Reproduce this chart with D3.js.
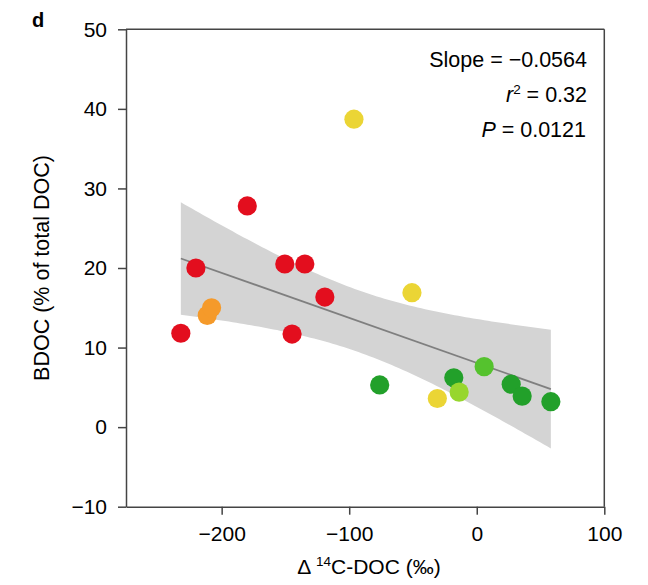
<!DOCTYPE html>
<html><head><meta charset="utf-8">
<script src="https://cdn.jsdelivr.net/npm/d3@7"></script>
<style>body{margin:0;background:#fff;} text{font-family:"Liberation Sans",Arial,Helvetica,sans-serif;}</style>
</head><body>
<svg id="c" width="648" height="585"></svg>
<script>
const xVals = [-232, -220.2, -211.3, -207.9, -179.9, -150.5, -134.8, -144.8, -119.1, -96.3, -50.8, -76.1, -30.9, -18.0, -13.8, 5.8, 27.0, 35.6, 58.1];
const yVals = [11.8, 20.0, 14.05, 15.0, 27.8, 20.5, 20.5, 11.7, 16.35, 38.7, 16.9, 5.3, 3.6, 6.2, 4.4, 7.6, 5.4, 3.9, 3.2];
const groups = ["red","red","orange","orange","red","red","red","red","red","yellow","yellow","dkgreen","yellow","dkgreen","ltgreen","mdgreen","dkgreen","dkgreen","dkgreen"];
const groupNames = ["red","orange","yellow","ltgreen","mdgreen","dkgreen"];
const groupColors = ["#E30E1E","#F59A2A","#EBD535","#97D62E","#55C22E","#22A02A"];
const xTicks = [-200, -100, 0, 100];
const yTicks = [-10, 0, 10, 20, 30, 40, 50];
const stats = ["Slope = \u22120.0564", "r2 = 0.32", "P = 0.0121"];

const svg = d3.select("#c");
const m = {l:126, r:604.3, t:29.3, b:506.7};
const x = d3.scaleLinear().domain([-275, 100]).range([m.l, m.r]);
const y = d3.scaleLinear().domain([-10, 50]).range([m.b, m.t]);
const color = d3.scaleOrdinal().domain(groupNames).range(groupColors);

// regression with 95% CI
const n = xVals.length;
const mx = d3.mean(xVals), my = d3.mean(yVals);
let sxx = 0, sxy = 0;
for (let i=0;i<n;i++){ sxx += (xVals[i]-mx)**2; sxy += (xVals[i]-mx)*(yVals[i]-my); }
const b = sxy/sxx, a = my - b*mx;
let sse = 0;
for (let i=0;i<n;i++){ sse += (yVals[i]-(a+b*xVals[i]))**2; }
const s = Math.sqrt(sse/(n-2));
const tcrit = 2.1098; // df = 17
const x0 = d3.min(xVals), x1 = d3.max(xVals);
const grid = d3.range(0, 101).map(i => x0 + (x1-x0)*i/100);
const band = grid.map(xv => {
  const yh = a + b*xv;
  const se = s*Math.sqrt(1/n + (xv-mx)**2/sxx);
  return {x:xv, lo:yh - tcrit*se, hi:yh + tcrit*se};
});
svg.append("path").datum(band)
  .attr("d", d3.area().x(d=>x(d.x)).y0(d=>y(d.lo)).y1(d=>y(d.hi)))
  .attr("fill", "#D4D4D4");
svg.append("line")
  .attr("x1", x(x0)).attr("y1", y(a+b*x0)).attr("x2", x(x1)).attr("y2", y(a+b*x1))
  .attr("stroke", "#7F7F7F").attr("stroke-width", 1.8);

// box
const axisColor = "#444";
svg.append("line").attr("x1", m.l).attr("x2", m.r).attr("y1", m.t).attr("y2", m.t).attr("stroke", axisColor).attr("stroke-width", 1.5);
svg.append("line").attr("x1", m.r).attr("x2", m.r).attr("y1", m.t).attr("y2", m.b).attr("stroke", axisColor).attr("stroke-width", 1.5);

const fmt = d => d < 0 ? "\u2212" + Math.abs(d) : d;
const xAxis = svg.append("g").attr("transform", `translate(0,${m.b})`)
  .call(d3.axisBottom(x).tickValues(xTicks).tickSize(8).tickSizeOuter(0).tickPadding(11).tickFormat(fmt));
const yAxis = svg.append("g").attr("transform", `translate(${m.l},0)`)
  .call(d3.axisLeft(y).tickValues(yTicks).tickSize(8).tickSizeOuter(0).tickPadding(11).tickFormat(fmt));
[xAxis, yAxis].forEach(g => {
  g.select(".domain").attr("stroke", axisColor).attr("stroke-width", 1.5);
  g.selectAll(".tick line").attr("stroke", axisColor).attr("stroke-width", 1.5);
  g.selectAll(".tick text").attr("fill", "#000").style("font-size", "21px")
    .style("font-family", "'Liberation Sans',Arial,sans-serif");
});

// points
svg.append("g").selectAll("circle").data(xVals.map((xv,i)=>({x:xv, y:yVals[i], g:groups[i]})))
  .join("circle")
  .attr("cx", d=>x(d.x)).attr("cy", d=>y(d.y)).attr("r", 9.6)
  .attr("fill", d=>color(d.g));

// stats text
const tx = 587;
const fs = "21.5px";
svg.append("text").attr("x", tx).attr("y", 66.5).attr("text-anchor","end").style("font-size",fs).attr("fill","#000").text(stats[0]);
const t2 = svg.append("text").attr("x", tx).attr("y", 102).attr("text-anchor","end").style("font-size",fs).attr("fill","#000");
t2.append("tspan").style("font-style","italic").text("r");
t2.append("tspan").attr("dy", -8).style("font-size","13.5px").text("2");
t2.append("tspan").attr("dy", 8).text(" = 0.32");
const t3 = svg.append("text").attr("x", tx-1).attr("y", 136.5).attr("text-anchor","end").style("font-size",fs).attr("fill","#000");
t3.append("tspan").style("font-style","italic").text("P");
t3.append("tspan").text(" = 0.0121");

// axis titles
svg.append("text").attr("transform", `translate(49,268) rotate(-90)`).attr("text-anchor","middle")
  .style("font-size","21.5px").attr("fill","#000").text("BDOC (% of total DOC)");
const xt = svg.append("text").attr("x", 369).attr("y", 574).attr("text-anchor","middle").style("font-size","21px").attr("fill","#000");
xt.append("tspan").text("\u0394 ");
xt.append("tspan").attr("dy", -8).style("font-size","13.5px").text("14");
xt.append("tspan").attr("dy", 8).text("C-DOC (\u2030)");

// panel label
svg.append("text").attr("x", 32).attr("y", 27).style("font-size","20px").style("font-weight","bold").attr("fill","#000").text("d");
</script>
</body></html>
